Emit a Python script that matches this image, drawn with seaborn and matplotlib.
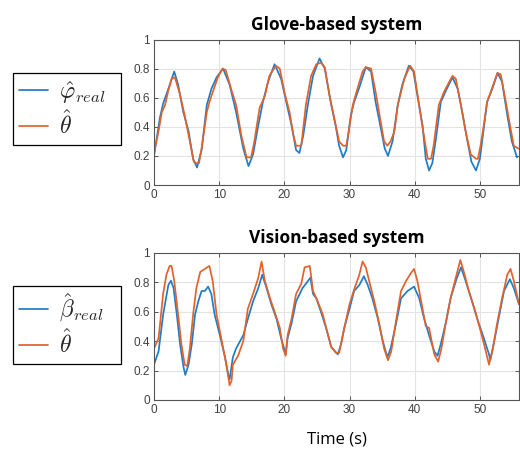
import matplotlib
matplotlib.use("Agg")
import matplotlib.pyplot as plt
import seaborn as sns
import pandas as pd

# ---------------- data ----------------
glove_phi_t = [0, 0.9, 1.4, 2.2, 3.1, 3.7, 4.5, 5.3, 6.0, 6.6,
               7.3, 8.1, 8.8, 9.6, 10.6, 11.6, 12.6, 13.7, 14.5, 15.2,
               16.0, 16.7, 17.5, 18.5, 19.5, 20.3, 21.1, 21.8, 22.3, 22.9,
               23.6, 24.4, 25.4, 26.2, 27.2, 27.9, 28.4, 29.0, 29.5, 30.2,
               30.7, 31.5, 32.5, 33.3, 34.0, 34.8, 35.4, 35.9, 36.6, 37.4,
               38.1, 39.1, 39.8, 40.4, 41.2, 41.7, 42.2, 42.7, 43.2, 44.0,
               44.8, 45.8, 46.6, 47.3, 48.1, 48.7, 49.4, 50.0, 50.6, 51.1,
               51.9, 52.7, 53.4, 54.2, 54.9, 55.7]
glove_phi_v = [0.20, 0.46, 0.56, 0.66, 0.78, 0.69, 0.50, 0.37, 0.18, 0.12,
               0.24, 0.55, 0.66, 0.74, 0.80, 0.69, 0.50, 0.25, 0.13, 0.21,
               0.41, 0.57, 0.71, 0.83, 0.73, 0.57, 0.41, 0.24, 0.22, 0.34,
               0.55, 0.75, 0.87, 0.80, 0.55, 0.40, 0.27, 0.19, 0.24, 0.48,
               0.57, 0.67, 0.81, 0.78, 0.57, 0.39, 0.25, 0.20, 0.30, 0.55,
               0.69, 0.82, 0.78, 0.62, 0.41, 0.18, 0.10, 0.15, 0.30, 0.57,
               0.65, 0.74, 0.66, 0.50, 0.30, 0.16, 0.10, 0.18, 0.39, 0.57,
               0.66, 0.77, 0.71, 0.48, 0.30, 0.19]

glove_theta_t = [0, 0.7, 1.2, 1.7, 2.2, 2.7, 3.2, 4.0, 4.7, 5.5,
                 6.1, 6.5, 6.9, 7.3, 8.1, 8.5, 9.1, 9.8, 10.5, 11.0,
                 11.9, 12.6, 13.4, 14.2, 14.9, 15.4, 16.2, 17.0, 17.7, 18.7,
                 19.3, 20.0, 20.8, 21.4, 21.8, 22.6, 23.3, 24.1, 24.9, 25.6,
                 26.2, 26.9, 27.7, 28.4, 29.0, 29.5, 29.7, 30.5, 31.2, 32.0,
                 32.5, 33.3, 34.0, 34.8, 35.3, 35.8, 36.3, 36.9, 37.4, 38.4,
                 39.3, 39.9, 40.6, 41.4, 42.0, 42.5, 42.9, 43.7, 44.5, 45.3,
                 45.8, 46.3, 47.0, 47.8, 48.6, 49.4, 49.7, 50.1, 50.6, 51.1,
                 51.9, 52.7, 53.2, 53.9, 54.7, 55.2, 55.9]
glove_theta_v = [0.22, 0.37, 0.50, 0.55, 0.65, 0.73, 0.74, 0.62, 0.48, 0.30,
                 0.16, 0.15, 0.15, 0.25, 0.50, 0.57, 0.65, 0.74, 0.80, 0.79,
                 0.65, 0.55, 0.34, 0.19, 0.19, 0.30, 0.53, 0.61, 0.75, 0.82,
                 0.80, 0.64, 0.50, 0.34, 0.27, 0.27, 0.55, 0.75, 0.83, 0.84,
                 0.81, 0.62, 0.45, 0.30, 0.27, 0.27, 0.32, 0.55, 0.66, 0.78,
                 0.81, 0.80, 0.64, 0.43, 0.30, 0.27, 0.30, 0.37, 0.55, 0.73,
                 0.82, 0.78, 0.57, 0.34, 0.18, 0.18, 0.27, 0.55, 0.64, 0.71,
                 0.75, 0.73, 0.57, 0.37, 0.21, 0.18, 0.18, 0.27, 0.41, 0.57,
                 0.67, 0.77, 0.76, 0.59, 0.39, 0.27, 0.25]

vision_beta_t = [0.0, 0.7, 1.4, 2.2, 2.6, 3.0, 3.5, 4.0, 4.5, 4.8,
                 5.3, 5.8, 6.3, 6.8, 7.3, 7.8, 8.3, 8.8, 9.3, 10.1,
                 10.9, 11.4, 11.6, 12.1, 12.6, 13.7, 14.4, 15.2, 16.0, 16.6,
                 17.2, 18.0, 18.8, 19.5, 20.2, 20.5, 21.1, 21.8, 22.8, 24.0,
                 24.4, 24.9, 25.6, 26.4, 27.2, 28.2, 28.7, 29.2, 30.0, 30.7,
                 31.5, 32.2, 32.8, 33.5, 34.3, 35.1, 35.8, 36.3, 37.1, 37.9,
                 38.9, 39.9, 40.7, 41.4, 42.2, 43.0, 43.5, 44.0, 44.8, 45.5,
                 46.4, 47.1, 47.8, 48.8, 49.6, 50.6, 51.4, 51.6, 52.2, 52.9,
                 53.7, 54.6, 55.2, 56.0]
vision_beta_v = [0.24, 0.33, 0.58, 0.78, 0.81, 0.76, 0.58, 0.38, 0.23, 0.17,
                 0.24, 0.38, 0.58, 0.67, 0.74, 0.74, 0.77, 0.72, 0.58, 0.44,
                 0.29, 0.17, 0.14, 0.29, 0.35, 0.44, 0.55, 0.67, 0.76, 0.85,
                 0.77, 0.65, 0.55, 0.42, 0.31, 0.42, 0.52, 0.67, 0.76, 0.83,
                 0.72, 0.69, 0.60, 0.49, 0.36, 0.31, 0.38, 0.49, 0.62, 0.74,
                 0.78, 0.84, 0.78, 0.69, 0.56, 0.40, 0.29, 0.35, 0.51, 0.69,
                 0.74, 0.77, 0.69, 0.56, 0.44, 0.33, 0.30, 0.38, 0.53, 0.69,
                 0.82, 0.90, 0.81, 0.67, 0.55, 0.42, 0.31, 0.27, 0.40, 0.56,
                 0.74, 0.82, 0.76, 0.65]

vision_theta_t = [0.0, 0.7, 1.4, 1.9, 2.4, 2.7, 3.1, 3.7, 4.2, 4.7,
                  5.1, 5.5, 6.0, 6.5, 7.1, 7.8, 8.5, 9.0, 9.6, 10.4,
                  11.1, 11.6, 11.9, 12.1, 12.9, 13.7, 14.4, 15.2, 16.0, 16.5,
                  17.0, 17.8, 18.5, 19.3, 19.8, 20.2, 20.5, 21.1, 21.8, 22.6,
                  23.1, 23.9, 24.4, 25.1, 25.9, 26.7, 27.2, 27.9, 28.4, 28.7,
                  29.2, 30.0, 30.7, 31.5, 32.0, 32.5, 33.0, 33.8, 34.6, 35.3,
                  35.9, 36.4, 37.1, 37.9, 38.7, 39.4, 39.9, 40.4, 41.2, 41.7,
                  42.2, 43.0, 43.6, 44.1, 44.8, 45.5, 46.3, 47.0, 47.6, 48.3,
                  49.3, 50.1, 50.8, 51.4, 52.0, 52.6, 53.4, 54.2, 54.7, 55.2,
                  56.0]
vision_theta_v = [0.35, 0.42, 0.72, 0.85, 0.91, 0.91, 0.81, 0.58, 0.38, 0.24,
                  0.23, 0.35, 0.58, 0.76, 0.87, 0.89, 0.91, 0.81, 0.58, 0.40,
                  0.24, 0.10, 0.13, 0.24, 0.30, 0.40, 0.62, 0.72, 0.83, 0.94,
                  0.81, 0.69, 0.60, 0.49, 0.35, 0.30, 0.44, 0.55, 0.72, 0.79,
                  0.90, 0.91, 0.74, 0.67, 0.58, 0.44, 0.36, 0.32, 0.32, 0.38,
                  0.49, 0.65, 0.75, 0.85, 0.94, 0.90, 0.81, 0.67, 0.51, 0.35,
                  0.27, 0.33, 0.53, 0.74, 0.81, 0.86, 0.89, 0.81, 0.62, 0.50,
                  0.49, 0.31, 0.26, 0.35, 0.53, 0.69, 0.83, 0.95, 0.86, 0.74,
                  0.60, 0.47, 0.35, 0.24, 0.35, 0.51, 0.69, 0.85, 0.89, 0.81,
                  0.65]

titles = ["Glove-based system", "Vision-based system"]
labels_top = [r"$\hat{\varphi}_{real}$", r"$\hat{\theta}$"]
labels_bottom = [r"$\hat{\beta}_{real}$", r"$\hat{\theta}$"]
xticks = [0, 10, 20, 30, 40, 50]
yticks = [0, 0.2, 0.4, 0.6, 0.8, 1]
ytick_labels = ["0", "0.2", "0.4", "0.6", "0.8", "1"]

# ---------------- style ----------------
sns.set_theme(style="white")
plt.rcParams["font.family"] = ["Liberation Sans", "DejaVu Sans"]
plt.rcParams["mathtext.fontset"] = "cm"

BLUE = "#1f7cc6"
ORANGE = "#e2622c"
AXC = "#555555"

fig = plt.figure(figsize=(5.2, 4.5), dpi=100)
ax1 = fig.add_axes([154 / 520, 1 - 185 / 450, 365 / 520, 145.5 / 450])
ax2 = fig.add_axes([154 / 520, 1 - 400 / 450, 365 / 520, 147.3 / 450])

series = [
    (ax1, glove_phi_t, glove_phi_v, glove_theta_t, glove_theta_v, titles[0], labels_top),
    (ax2, vision_beta_t, vision_beta_v, vision_theta_t, vision_theta_v, titles[1], labels_bottom),
]

for ax, ta, va, tb, vb, title, labs in series:
    da = pd.DataFrame({"t": ta, "v": va})
    db = pd.DataFrame({"t": tb, "v": vb})
    sns.lineplot(data=da, x="t", y="v", ax=ax, color=BLUE, lw=1.25,
                 estimator=None, sort=False, label=labs[0], legend=False)
    sns.lineplot(data=db, x="t", y="v", ax=ax, color=ORANGE, lw=1.25,
                 estimator=None, sort=False, label=labs[1], legend=False)
    ax.set_xlim(0, 56)
    ax.set_ylim(0, 1)
    ax.set_xticks(xticks)
    ax.set_yticks(yticks)
    ax.set_yticklabels(ytick_labels)
    ax.grid(True, color="#e3e3e3", lw=0.8)
    ax.set_axisbelow(True)
    for s in ax.spines.values():
        s.set_color(AXC)
        s.set_linewidth(0.8)
    ax.tick_params(direction="in", length=3, width=0.7, colors=AXC,
                   labelcolor="#404040", labelsize=8.5, pad=3,
                   top=True, right=True, bottom=True, left=True)
    ax.set_xlabel("")
    ax.set_ylabel("")
    ax.set_title(title, fontsize=12.5, fontweight="bold",
                 family=["Open Sans", "DejaVu Sans"], pad=7, color="black")

ax2.set_xlabel("Time (s)", fontsize=12, family=["Open Sans", "DejaVu Sans"],
               labelpad=11, color="black")

for ax, top_px, labs in [(ax1, 73, labels_top), (ax2, 286, labels_bottom)]:
    lines = ax.get_lines()[:2]
    leg = fig.legend(lines, labs, loc="upper left", mode="expand",
                     bbox_to_anchor=(13 / 520, 1 - (top_px + 71) / 450,
                                     108 / 520, 71 / 450),
                     fontsize=17, frameon=True, fancybox=False, framealpha=1,
                     edgecolor="black", handlelength=1.25, handletextpad=0.45,
                     borderpad=0.25, labelspacing=0.2, borderaxespad=0)
    leg.get_frame().set_linewidth(0.9)

fig.savefig("out.png", dpi=100)
